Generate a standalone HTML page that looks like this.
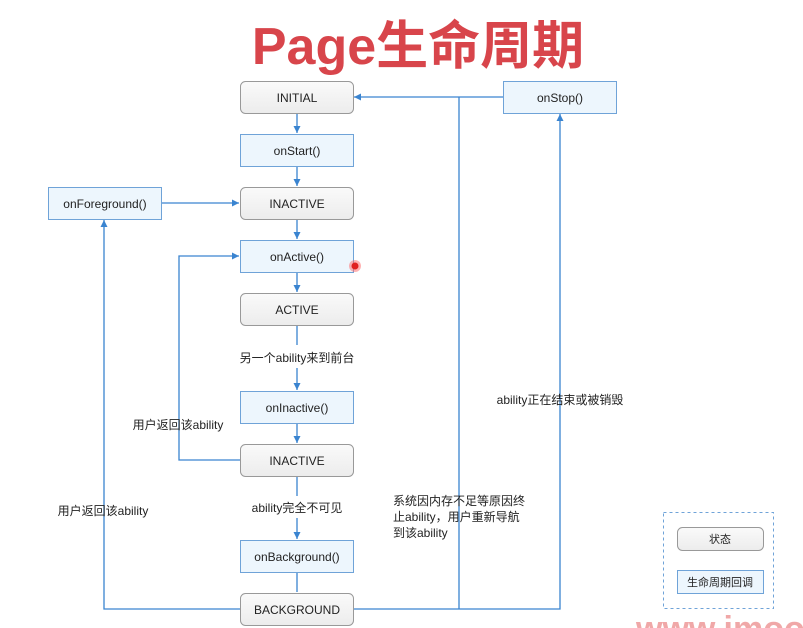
<!DOCTYPE html>
<html><head><meta charset="utf-8"><style>
body{margin:0;width:803px;height:628px;background:#fff;overflow:hidden;font-family:"Liberation Sans","Noto Sans CJK SC",sans-serif;}
</style></head><body>
<svg width="803" height="628" xmlns="http://www.w3.org/2000/svg" style="position:absolute;left:0;top:0">
<defs>
<marker id="a" markerWidth="8" markerHeight="8" refX="7" refY="4" orient="auto" markerUnits="userSpaceOnUse"><path d="M0,0.5 L7,4 L0,7.5 z" fill="#3a84d0"/></marker>
<linearGradient id="g" x1="0" y1="0" x2="0" y2="1"><stop offset="0" stop-color="#fafafa"/><stop offset="1" stop-color="#ececec"/></linearGradient>
</defs>
<text x="418" y="64" text-anchor="middle" font-size="52" font-weight="bold" fill="#d8454b" font-family="Liberation Sans,Noto Sans CJK SC,sans-serif">Page生命周期</text>
<g fill="none" stroke="#3a84d0" stroke-width="1.3">
<line x1="297" y1="113" x2="297" y2="133" marker-end="url(#a)"/>
<line x1="297" y1="166" x2="297" y2="186" marker-end="url(#a)"/>
<line x1="297" y1="219" x2="297" y2="239" marker-end="url(#a)"/>
<line x1="297" y1="272" x2="297" y2="292" marker-end="url(#a)"/>
<line x1="297" y1="325" x2="297" y2="345"/>
<line x1="297" y1="368" x2="297" y2="390" marker-end="url(#a)"/>
<line x1="297" y1="423" x2="297" y2="443" marker-end="url(#a)"/>
<line x1="297" y1="476" x2="297" y2="496"/>
<line x1="297" y1="518" x2="297" y2="539" marker-end="url(#a)"/>
<line x1="297" y1="572" x2="297" y2="592"/>
<line x1="161" y1="203" x2="239" y2="203" marker-end="url(#a)"/>
<polyline points="240,460 179,460 179,256 239,256" marker-end="url(#a)"/>
<polyline points="240,609 104,609 104,220" marker-end="url(#a)"/>
<polyline points="353,609 560,609 560,114" marker-end="url(#a)"/>
<line x1="459" y1="609" x2="459" y2="97"/>
<line x1="503" y1="97" x2="354" y2="97" marker-end="url(#a)"/>
</g>
<g font-size="12" text-anchor="middle" fill="#222">
<g stroke="#999" stroke-width="1" fill="url(#g)">
<rect x="240.5" y="81.5" width="113" height="32" rx="5"/>
<rect x="240.5" y="187.5" width="113" height="32" rx="5"/>
<rect x="240.5" y="293.5" width="113" height="32" rx="5"/>
<rect x="240.5" y="444.5" width="113" height="32" rx="5"/>
<rect x="240.5" y="593.5" width="113" height="32" rx="5"/>
<rect x="677.5" y="527.5" width="86" height="23" rx="5"/>
</g>
<g stroke="#6fa3d8" stroke-width="1" fill="#edf6fd">
<rect x="240.5" y="134.5" width="113" height="32"/>
<rect x="48.5" y="187.5" width="113" height="32"/>
<rect x="240.5" y="240.5" width="113" height="32"/>
<rect x="240.5" y="391.5" width="113" height="32"/>
<rect x="240.5" y="540.5" width="113" height="32"/>
<rect x="503.5" y="81.5" width="113" height="32"/>
<rect x="677.5" y="570.5" width="86" height="23"/>
</g>
<rect x="663.5" y="512.5" width="110" height="96" fill="none" stroke="#6fa3d8" stroke-dasharray="3,3"/>
<text x="297" y="102">INITIAL</text>
<text x="297" y="155">onStart()</text>
<text x="297" y="208">INACTIVE</text>
<text x="105" y="208">onForeground()</text>
<text x="297" y="261">onActive()</text>
<text x="297" y="314">ACTIVE</text>
<text x="297" y="412">onInactive()</text>
<text x="297" y="465">INACTIVE</text>
<text x="297" y="561">onBackground()</text>
<text x="297" y="614">BACKGROUND</text>
<text x="560" y="102">onStop()</text>
<text x="720" y="543" font-size="11">状态</text>
<text x="720" y="586" font-size="11">生命周期回调</text>
<text x="297" y="362">另一个ability来到前台</text>
<text x="297" y="512">ability完全不可见</text>
<text x="178" y="429">用户返回该ability</text>
<text x="103" y="515">用户返回该ability</text>
<text x="560" y="404">ability正在结束或被销毁</text>
<text x="393" y="505" text-anchor="start">系统因内存不足等原因终</text>
<text x="393" y="521" text-anchor="start">止ability，用户重新导航</text>
<text x="393" y="537" text-anchor="start">到该ability</text>
</g>
<circle cx="355" cy="266" r="6" fill="#f66" opacity="0.5"/>
<circle cx="355" cy="266" r="3.5" fill="#e02020"/>
<text x="636" y="640" font-size="34" font-weight="bold" fill="#f0a8a8" font-family="Liberation Sans,sans-serif">www.imooc</text>
</svg>
</body></html>
